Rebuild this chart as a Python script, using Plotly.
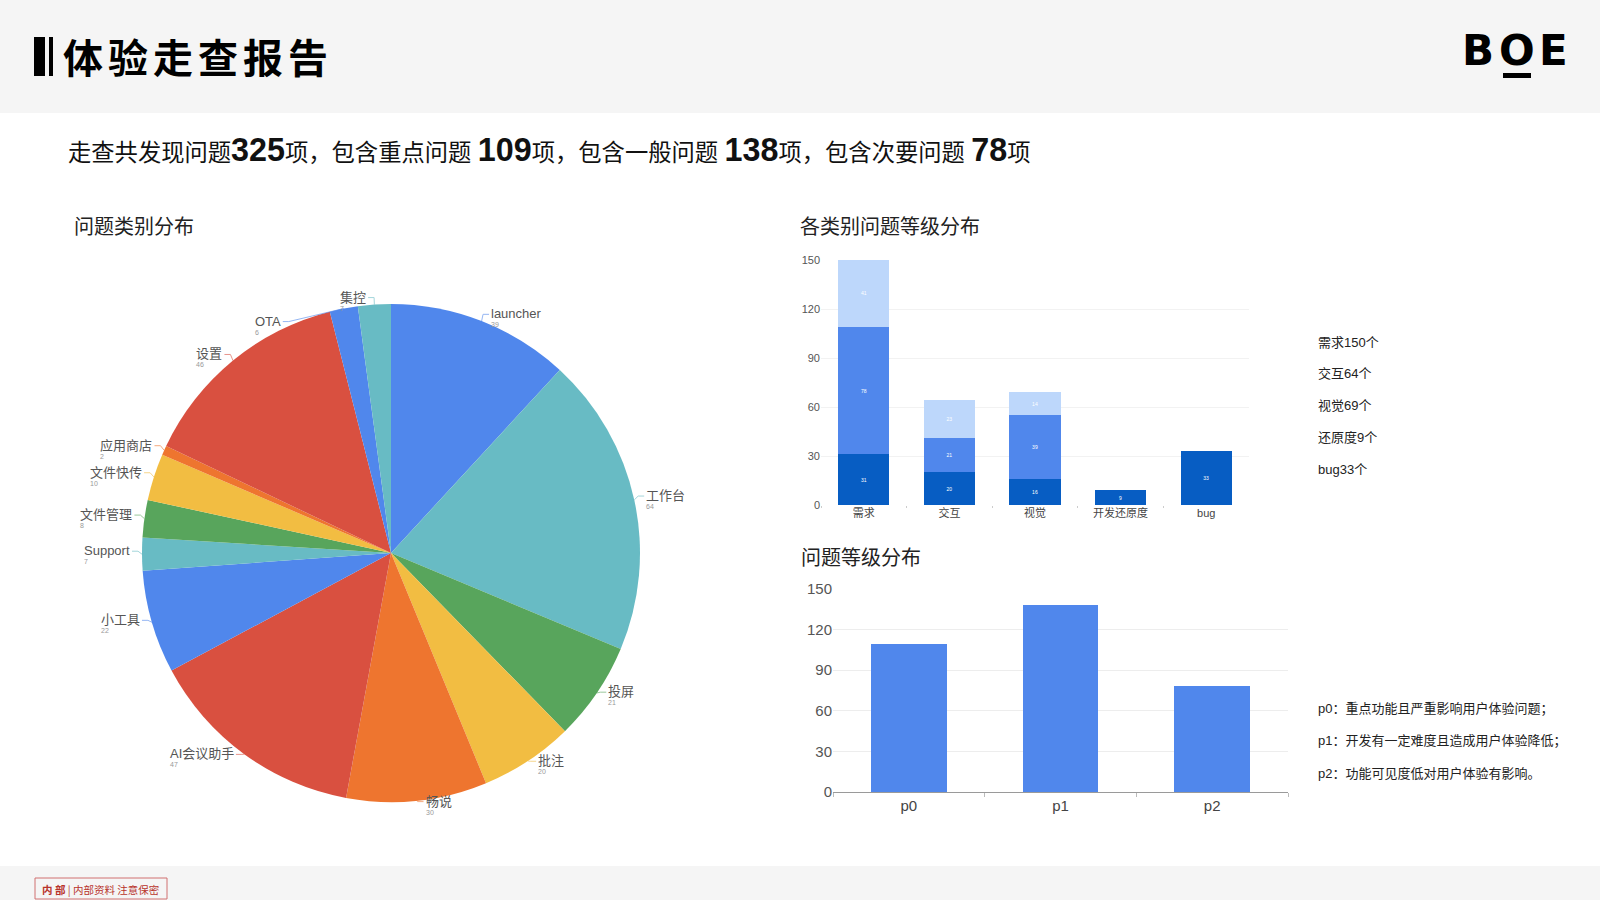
import math
import plotly.graph_objects as go

# ---------------- data ----------------
pie_labels = ["launcher", "工作台", "投屏", "批注", "畅说", "AI会议助手", "小工具",
              "Support", "文件管理", "文件快传", "应用商店", "设置", "OTA", "集控"]
pie_values = [39, 64, 21, 20, 30, 47, 22, 7, 8, 10, 2, 46, 6, 7]
palette = ["#5087EC", "#68BBC4", "#58A55C", "#F2BD42", "#EE752F", "#D95040"]

cat_labels = ["需求", "交互", "视觉", "开发还原度", "bug"]
p0_by_cat = [31, 20, 16, 9, 33]
p1_by_cat = [78, 21, 39, 0, 0]
p2_by_cat = [41, 23, 14, 0, 0]
stack_colors = ["#075DC3", "#5087EC", "#BDD7FB"]

level_labels = ["p0", "p1", "p2"]
level_values = [109, 138, 78]

cat_legend = ["需求150个", "交互64个", "视觉69个", "还原度9个", "bug33个"]
level_notes = ["p0：重点功能且严重影响用户体验问题；",
               "p1：开发有一定难度且造成用户体验降低；",
               "p2：功能可见度低对用户体验有影响。"]

bar_ticks = [0, 30, 60, 90, 120, 150]

W, H = 1600, 900
FONT = "Liberation Sans, Noto Sans CJK SC, sans-serif"
CJK = "Noto Sans CJK SC, Liberation Sans, sans-serif"


def px(x):
    return x / W


def py(y):
    return 1 - y / H


fig = go.Figure()
shapes = []
ann = []


def text(x, y, t, size, color="#222", family=FONT, xa="left", ya="middle", **kw):
    d = dict(x=px(x), y=py(y), xref="paper", yref="paper", text=t, showarrow=False,
             xanchor=xa, yanchor=ya, font=dict(size=size, color=color, family=family))
    d.update(kw)
    ann.append(d)


def rect(x0, y0, x1, y1, fill, **kw):
    d = dict(type="rect", xref="paper", yref="paper", x0=px(x0), x1=px(x1), y0=py(y1), y1=py(y0),
             fillcolor=fill, line_width=0)
    d.update(kw)
    shapes.append(d)


# ---------------- backgrounds ----------------
rect(-10, -10, 1700, 113, "#F5F5F5", layer="below")
rect(-10, 866, 1700, 1000, "#F5F5F5", layer="below")
rect(34, 37, 45, 76, "#000")
rect(49, 37, 53, 76, "#000")
for i, ch in enumerate("体验走查报告"):
    text(83 + 45 * i, 56, "<b>" + ch + "</b>", 40, "#000", CJK, xa="center")

# BOE logo
for ch, cx in zip("BOE", [1478, 1517, 1553]):
    text(cx, 51, "<b>" + ch + "</b>", 42, "#000", "DejaVu Sans, Inter", xa="center")
rect(1503, 73, 1531, 78, "#000")

# footer badge
shapes.append(dict(type="rect", xref="paper", yref="paper", x0=px(35), x1=px(167), y0=py(899), y1=py(878),
                   fillcolor="rgba(0,0,0,0)", line=dict(color="#D07070", width=1)))
text(101, 889, "<b>内 部</b> | 内部资料 注意保密", 10.5, "#B8332B", CJK, xa="center")

# summary line
total = sum(level_values)
big = "<b><span style='font-size:32.3px'>%d</span></b>"
summary = ("走查共发现问题" + big % total + "项，包含重点问题 " + big % level_values[0] +
           "项，包含一般问题 " + big % level_values[1] + "项，包含次要问题 " + big % level_values[2] + "项")
text(66, 150, summary, 23.3, "#111", FONT)

# section titles
for t, x, y in [("问题类别分布", 72, 226), ("各类别问题等级分布", 798, 226), ("问题等级分布", 799, 556)]:
    text(x, y, t, 20, "#222", CJK)

# ---------------- pie ----------------
CX, CY, R = 391, 553, 249
colors = [palette[i % len(palette)] for i in range(len(pie_values))]
fig.add_trace(go.Pie(labels=pie_labels, values=pie_values, sort=False, direction="clockwise", rotation=0,
                     marker=dict(colors=colors, line=dict(width=0)), textinfo="none", showlegend=False,
                     hoverinfo="label+value", automargin=False,
                     domain=dict(x=[px(CX - R), px(CX + R)], y=[py(CY + R), py(CY - R)])))

ptotal = sum(pie_values)
LR = R + 4
items = []
cum = 0
for lab, v, c in zip(pie_labels, pie_values, colors):
    mid = (cum + v / 2) / ptotal * 2 * math.pi
    cum += v
    items.append(dict(lab=lab, v=v, c=c, mid=mid, side=1 if math.sin(mid) >= 0 else -1,
                      ly=CY - LR * math.cos(mid) - 3, lx=CX + LR * math.sin(mid), moved=False))
GAP = 24
for side in (1, -1):
    grp = sorted([it for it in items if it["side"] == side], key=lambda d: d["ly"])
    prev = None
    for it in grp:
        if prev is not None and it["ly"] < prev + GAP:
            it["ly"] = prev + GAP
            it["moved"] = True
        prev = it["ly"]
for it in items:
    if it["moved"]:
        dy = it["ly"] - CY
        it["lx"] = CX + it["side"] * math.sqrt(max(LR ** 2 - dy ** 2, 0))
    ex = CX + R * math.sin(it["mid"])
    ey = CY - R * math.cos(it["mid"])
    endx = it["lx"] + it["side"] * 6
    shapes.append(dict(type="path", xref="paper", yref="paper",
                       path="M %f %f L %f %f L %f %f" % (px(ex), py(ey), px(it["lx"]), py(it["ly"]),
                                                        px(endx), py(it["ly"])),
                       line=dict(color=it["c"], width=1), opacity=0.6))
    text(endx + it["side"] * 1, it["ly"] - 9,
         "<span style='font-size:13px;color:#555'>%s</span><br><span style='color:#999'>%d</span>"
         % (it["lab"], it["v"]),
         7, "#999", FONT, xa="left" if it["side"] > 0 else "right", ya="top", align="left", borderpad=0)

# ---------------- stacked bar ----------------
for vals, col, name in zip([p0_by_cat, p1_by_cat, p2_by_cat], stack_colors, level_labels):
    fig.add_trace(go.Bar(x=cat_labels, y=vals, name=name, width=0.6,
                         marker=dict(color=col, line=dict(width=0)),
                         text=[str(v) if v else "" for v in vals], textposition="inside",
                         insidetextanchor="middle", textfont=dict(size=5, color="#FFFFFF"),
                         showlegend=False, xaxis="x", yaxis="y"))

# ---------------- level bar ----------------
fig.add_trace(go.Bar(x=level_labels, y=level_values, width=0.5,
                     marker=dict(color="#5087EC", line=dict(width=0)),
                     showlegend=False, xaxis="x2", yaxis="y2"))

# side texts
for i, t in enumerate(cat_legend):
    text(1316, 342 + 31.8 * i, t, 13, "#222")
for i, t in enumerate(level_notes):
    text(1316, 709 + 32 * i, t, 13, "#222")

fig.update_layout(
    template="none",
    width=W, height=H, autosize=False,
    margin=dict(l=0, r=0, t=0, b=0, pad=0, autoexpand=False),
    paper_bgcolor="#FFFFFF", plot_bgcolor="rgba(0,0,0,0)",
    barmode="stack", showlegend=False,
    font=dict(family=FONT, color="#555"),
    shapes=shapes, annotations=ann,
    xaxis=dict(domain=[px(821), px(1249)], anchor="y", tickfont=dict(size=11, color="#444", family=FONT),
               showline=False, ticks="outside", ticklen=2, tickcolor="#CCCCCC", tickson="boundaries",
               showgrid=False, zeroline=False, automargin=False),
    yaxis=dict(domain=[py(505), py(260)], anchor="x", range=[0, 150], tickvals=bar_ticks,
               tickfont=dict(size=11, color="#555"), showgrid=True, gridcolor="#F2F2F2", zeroline=False,
               showline=False, ticks="", automargin=False),
    xaxis2=dict(domain=[px(833), px(1288)], anchor="y2", tickfont=dict(size=15, color="#444"),
                showline=True, linecolor="#9A9A9A", linewidth=1, ticks="outside", ticklen=4,
                tickcolor="#BBBBBB", tickson="boundaries", showgrid=False, zeroline=False, automargin=False),
    yaxis2=dict(domain=[py(792), py(589)], anchor="x2", range=[0, 150], tickvals=bar_ticks,
                tickfont=dict(size=15, color="#555"), showgrid=True, gridcolor="#EDEDED", zeroline=False,
                showline=False, ticks="", automargin=False),
)

fig.write_html("out.html", config={"displayModeBar": False},
               post_script="document.body.style.margin='0';document.body.style.overflow='hidden';")
